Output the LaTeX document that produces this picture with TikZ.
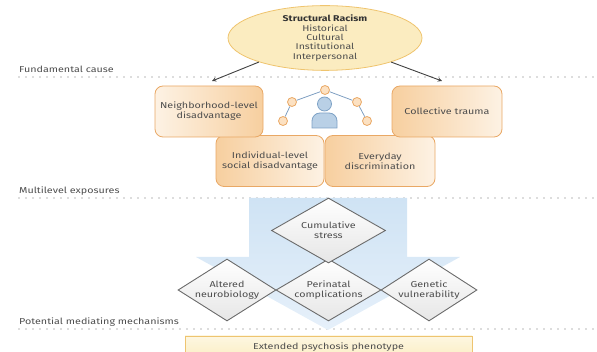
\documentclass[tikz,border=0pt]{standalone}
\usepackage{fontspec}
\setmainfont[FakeStretch=1.25]{Fira Sans}
\usetikzlibrary{arrows,shapes.geometric}
\definecolor{txtgray}{HTML}{4D4D4D}
\definecolor{dotgray}{HTML}{6E6E6E}
\definecolor{srfill}{HTML}{FBECC0}
\definecolor{srline}{HTML}{EFC46E}
\definecolor{boxfill}{HTML}{F7CF9F}
\definecolor{boxlight}{HTML}{FDF2E4}
\definecolor{boxline}{HTML}{E9A865}
\definecolor{hubfill}{HTML}{FCE1C2}
\definecolor{linkblue}{HTML}{7F9FC2}
\definecolor{iconfill}{HTML}{B9D0E6}
\definecolor{iconline}{HTML}{7EA2C6}
\definecolor{arrowtop}{HTML}{CFE3F4}
\definecolor{arrowbot}{HTML}{E6F0FA}
\definecolor{mechline}{HTML}{6B6B6B}
\definecolor{mechfill}{HTML}{E6E6E6}
\definecolor{epsfill}{HTML}{FBEEC4}
\definecolor{epsline}{HTML}{EEC470}

\begin{document}
\begin{tikzpicture}[x=1pt,y=-1pt,>=stealth,
		every node/.style={font=\fontsize{8.6}{10}\selectfont,text=txtgray},
		layer/.style={dotgray,line width=1.2pt,line cap=round,dash pattern=on 0pt off 7pt},
		tag/.style={anchor=base west,inner sep=0pt},
		expbox/.style={draw=boxline,line width=.8pt,rounded corners=8pt,align=center,minimum width=108pt,minimum height=51pt,inner sep=2pt},
		hub/.style={circle,draw=boxline,fill=hubfill,line width=.8pt,minimum size=9pt,inner sep=0pt},
		link/.style={linkblue,line width=.8pt},
		mech/.style={diamond,draw=mechline,line width=.9pt,top color=white,bottom color=mechfill,inner sep=0pt},
		mtext/.style={align=center,inner sep=0pt},
		cause/.style={->,line width=.9pt,draw=black!75}]
			\useasboundingbox (0,0) rectangle (597,352);
			\draw[layer] (19,77) -- (597,77);
			\draw[layer] (19,198) -- (597,198);
			\draw[layer] (19,329) -- (597,329);
			\node[tag] (fc) at (19,73) {Fundamental cause};
			\node[tag] (me) at (19,194) {Multilevel exposures};
			\node[tag] (pm) at (19,325) {Potential mediating mechanisms};
			
			\node[ellipse,draw=srline,line width=.8pt,fill=srfill,minimum width=194pt,minimum height=64pt,inner sep=0pt,align=center,font=\fontsize{8.4}{9.3}\selectfont] (sr) at (325,38) {\textcolor{black!80}{\textbf{Structural Racism}}\\Historical\\Cultural\\Institutional\\Interpersonal};
			\coordinate (nl) at (212,81); \coordinate (ct) at (442,81);
			\draw[cause] (sr.200) -- (nl); \draw[cause] (sr.340) -- (ct);
			
			\node[expbox,left color=boxfill,right color=boxlight] (ind) at (270,161) {Individual-level\\social disadvantage};
			\node[expbox,left color=boxfill,right color=boxlight,minimum width=110pt] (evd) at (380,161) {Everyday\\discrimination};
			\node[expbox,left color=boxlight,right color=boxfill] (nbh) at (209,111.5) {Neighborhood-level\\disadvantage};
			\node[expbox,left color=boxfill,right color=boxlight,minimum width=110pt] (col) at (447,111.5) {Collective trauma};
			
			\node[hub] (h1) at (283,121) {}; \node[hub] (h2) at (292,102) {}; \node[hub] (h3) at (325,90) {};
			\node[hub] (h4) at (357,102) {}; \node[hub] (h5) at (367,121) {};
			\draw[link] (h1) -- (h2) -- (h3) -- (h4) -- (h5);
			\draw[draw=iconline,fill=iconfill,line width=.8pt] (312,128) -- (312,121) arc[start angle=180,end angle=90,radius=8pt] -- (329,113) arc[start angle=90,end angle=0,radius=8pt] -- (337,128) -- cycle;
			\node[circle,draw=iconline,fill=iconfill,line width=.8pt,minimum size=14pt,inner sep=0pt] (head) at (324.5,104) {};
			
			\shade[top color=arrowtop,bottom color=arrowbot] (249,198) -- (407,198) -- (407,257) -- (460,257) -- (328,330) -- (196,257) -- (249,257) -- cycle;
			\node[mech,minimum width=98pt,minimum height=62pt] (alt) at (227,290) {}; \node[mtext] at (alt) {Altered\\neurobiology};
			\node[mech,minimum width=96pt,minimum height=62pt] (gen) at (429,290) {}; \node[mtext] at (gen) {Genetic\\vulnerability};
			\node[mech,minimum width=105pt,minimum height=62pt] (per) at (328.5,290) {}; \node[mtext] at (per) {Perinatal\\complications};
			\node[mech,minimum width=114pt,minimum height=65pt] (cum) at (328.5,230.5) {}; \node[mtext] at (cum) {Cumulative\\stress};
			
			\node[draw=epsline,line width=.8pt,top color=epsfill!50,bottom color=epsfill,minimum width=287pt,minimum height=22pt] (eps) at (328.5,347) {Extended psychosis phenotype};
\end{tikzpicture}
\end{document}
